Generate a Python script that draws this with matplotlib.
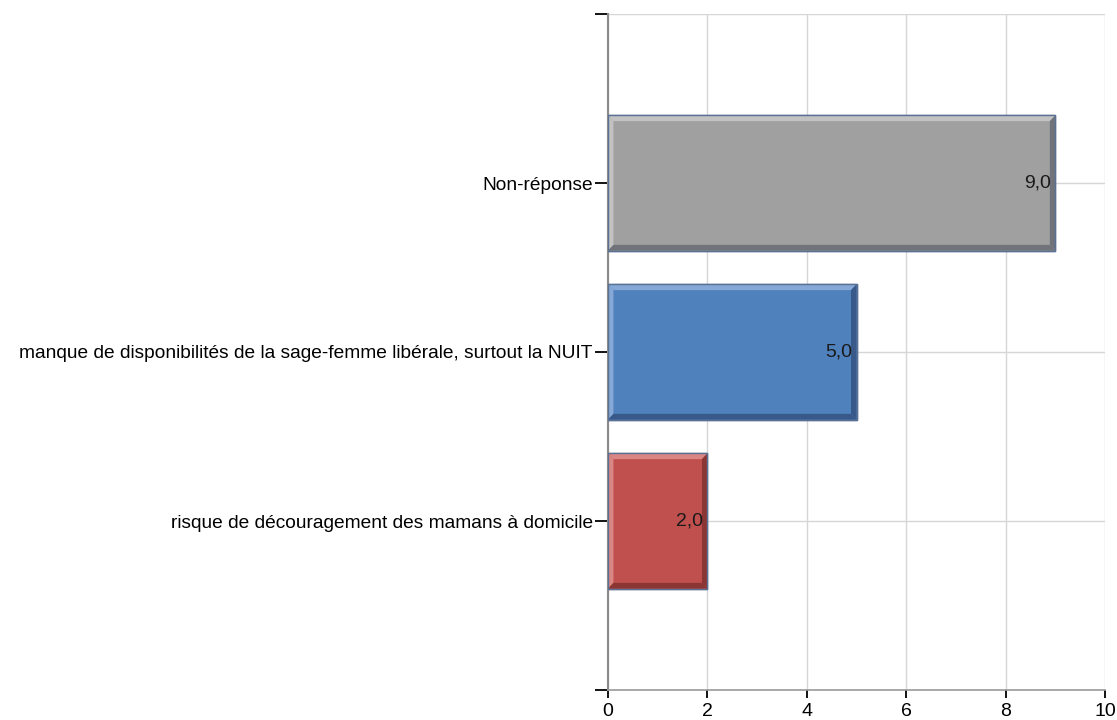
import matplotlib
import matplotlib.pyplot as plt
from matplotlib.patches import Polygon

matplotlib.rcParams['font.family'] = ['Liberation Sans', 'DejaVu Sans']

categories = ["Non-réponse",
              "manque de disponibilités de la sage-femme libérale, surtout la NUIT",
              "risque de découragement des mamans à domicile"]
values = [9.0, 5.0, 2.0]
colors = ['#A0A0A0', '#4F81BD', '#C0504D']
light = ['#C2C2C2', '#86A8D6', '#D98684']
dark = ['#70737A', '#38598A', '#8B3634']

fig = plt.figure(figsize=(11.17, 7.2), dpi=100)
ax = fig.add_axes([608/1117, 30/720, 497/1117, 676/720])

pos = [1, 2, 3]
h = 0.8
bx = 0.11   # bevel widths in data units
by = 0.034

for i, (p, v) in enumerate(zip(pos, values)):
    y0, y1 = p - h/2, p + h/2
    ax.barh(p, v, height=h, color=colors[i], edgecolor='#5A7194', linewidth=1, zorder=3)
    # top and left (light)
    ax.add_patch(Polygon([(0, y0), (v, y0), (v - bx, y0 + by), (bx, y0 + by)],
                         closed=True, color=light[i], lw=0, zorder=4))
    ax.add_patch(Polygon([(0, y0), (bx, y0 + by), (bx, y1 - by), (0, y1)],
                         closed=True, color=light[i], lw=0, zorder=4))
    # bottom and right (dark)
    ax.add_patch(Polygon([(0, y1), (bx, y1 - by), (v - bx, y1 - by), (v, y1)],
                         closed=True, color=dark[i], lw=0, zorder=4))
    ax.add_patch(Polygon([(v, y0), (v, y1), (v - bx, y1 - by), (v - bx, y0 + by)],
                         closed=True, color=dark[i], lw=0, zorder=4))
    ax.add_patch(plt.Rectangle((0, y0), v, h, fill=False, ec='#5A7194', lw=1, zorder=5))
    ax.text(v - 0.09, p, f"{v:.1f}".replace('.', ','), ha='right', va='center',
            fontsize=14, color='#1a1a1a', zorder=6)

ax.set_xlim(0, 10)
ax.set_ylim(4, 0)
ax.set_xticks(range(0, 11, 2))
ax.set_yticks([0, 1, 2, 3, 4])
ax.set_yticklabels([''] + categories + [''])
ax.tick_params(axis='y', length=9.5, width=1.3, color='black', labelsize=13.8, pad=1.5)
ax.tick_params(axis='x', length=6, width=1.3, color='black', labelsize=14, pad=3)
ax.grid(True, color='#D6D6D6', lw=1, zorder=0)
ax.set_axisbelow(True)
for s in ['top', 'right']:
    ax.spines[s].set_visible(False)
ax.spines['left'].set_color('#8A8A8A')
ax.spines['left'].set_linewidth(1.5)
ax.spines['bottom'].set_color('#9A9A9A')
ax.spines['bottom'].set_linewidth(1.2)

fig.savefig('out.png', dpi=100)
